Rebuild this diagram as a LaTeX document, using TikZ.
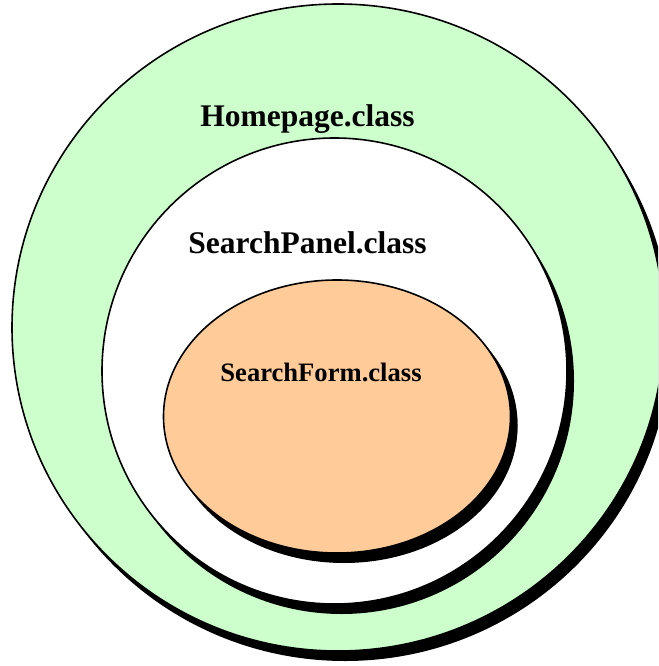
\documentclass[tikz,border=0pt]{standalone}
\usepackage{fontspec}
\setmainfont{Liberation Serif}
\usetikzlibrary{shapes.geometric,shadows}
\definecolor{pagegreen}{HTML}{CCFFCC}
\definecolor{formorange}{HTML}{FFCC99}
\tikzset{
  layer/.style={ellipse, draw=black, line width=1.6pt, inner sep=0pt,
    drop shadow={shadow xshift=7pt, shadow yshift=-10pt, fill=black, opacity=1}},
  classlabel/.style={anchor=base, font=\bfseries\fontsize{31.5}{36}\selectfont},
}
\begin{document}
\begin{tikzpicture}[x=1pt,y=-1pt]
  \clip (0,0) rectangle (658,666);
  \fill[white] (0,0) rectangle (658,666);
  % nested class containers
  \node[layer, fill=pagegreen, minimum width=652pt, minimum height=647pt] (home) at (338,327.5) {};
  \node[layer, fill=white, minimum width=465pt, minimum height=466pt] (panel) at (334.5,371) {};
  \node[layer, fill=formorange, minimum width=347pt, minimum height=273pt,
        drop shadow={shadow xshift=7pt, shadow yshift=-8pt, fill=black, opacity=1}] (form) at (337,416.5) {};
  % labels
  \node[classlabel] (homelabel) at (307.5,126) {Homepage.class};
  \node[classlabel] (panellabel) at (307.5,253) {SearchPanel.class};
  \node[classlabel, font=\bfseries\fontsize{26.6}{31}\selectfont] (formlabel) at (321,381) {SearchForm.class};
\end{tikzpicture}
\end{document}
